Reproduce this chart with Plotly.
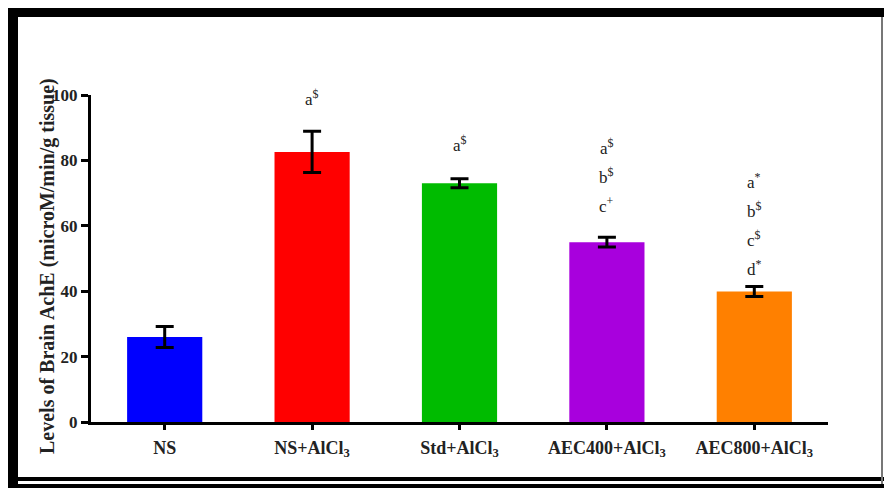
import plotly.graph_objects as go

# Brain AChE activity per treatment group (mean ± SEM)
groups = ["NS", "NS+AlCl<sub>3</sub>", "Std+AlCl<sub>3</sub>",
          "AEC400+AlCl<sub>3</sub>", "AEC800+AlCl<sub>3</sub>"]
means = [26.0, 82.6, 73.0, 55.0, 39.9]
sems = [3.2, 6.3, 1.4, 1.5, 1.5]
bar_colors = ["#0000FF", "#FF0000", "#00BB00", "#A800DD", "#FF8000"]

# Significance letters above each bar (top to bottom)
sig_letters = [
    [],
    ["a<sup>$</sup>"],
    ["a<sup>$</sup>"],
    ["a<sup>$</sup>", "b<sup>$</sup>", "c<sup>+</sup>"],
    ["a<sup>*</sup>", "b<sup>$</sup>", "c<sup>$</sup>", "d<sup>*</sup>"],
]
y_ticks = [0, 20, 40, 60, 80, 100]

W, H = 884, 488
L, R, T, B = 91, 828, 95, 422
FONT = "Liberation Serif"


def px_x(px):
    return (px - L) / (R - L)


def px_y(py):
    return (B - py) / (B - T)


fig = go.Figure()
fig.add_trace(go.Bar(
    x=groups, y=means,
    marker=dict(color=bar_colors, line=dict(width=0)),
    width=0.51,
    error_y=dict(type="data", array=sems, visible=True,
                 color="black", thickness=3, width=9),
    showlegend=False,
))

# letters stacked above the error bars
gaps = [0, 28, 30, 27, 14]
step = 29
for i, letters in enumerate(sig_letters):
    n = len(letters)
    for k, txt in enumerate(letters):
        fig.add_annotation(
            x=groups[i], y=means[i] + sems[i], xref="x", yref="y",
            text=txt, showarrow=False, yanchor="bottom",
            yshift=gaps[i] + (n - 1 - k) * step - 8,
            font=dict(family=FONT, size=17, color="#222"),
        )

# y-axis title
fig.add_annotation(
    x=px_x(47), y=px_y(266), xref="paper", yref="paper",
    xanchor="center", yanchor="middle",
    text="<b>Levels of Brain AchE (microM/min/g tissue)</b>",
    textangle=-90, showarrow=False,
    font=dict(family=FONT, size=20, color="#222"),
)

# outer frame
frame = [
    (8, 8, 884, 17, "black"),
    (8, 8, 18, 488, "black"),
    (18, 477, 884, 481, "black"),
    (18, 484, 884, 488, "black"),
    (881, 17, 883, 484, "#777777"),
]
for x0, y0, x1, y1, c in frame:
    fig.add_shape(type="rect", xref="paper", yref="paper",
                  x0=px_x(x0), x1=px_x(x1), y0=px_y(y0), y1=px_y(y1),
                  fillcolor=c, line=dict(width=0), layer="above")

fig.update_layout(
    width=W, height=H,
    margin=dict(l=L, r=W - R, t=T, b=H - B, pad=0),
    paper_bgcolor="white", plot_bgcolor="white",
    bargap=0.49,
    font=dict(family=FONT, color="#222"),
)
fig.update_xaxes(
    range=[-0.5, 4.5],
    showline=True, linecolor="black", linewidth=3,
    ticks="outside", ticklen=5, tickwidth=3, tickcolor="black",
    ticklabelstandoff=2,
    tickfont=dict(family=FONT, size=18, color="#222", weight="bold"),
    showgrid=False, zeroline=False,
)
fig.update_yaxes(
    range=[0, 100], tickvals=y_ticks,
    showline=True, linecolor="black", linewidth=3,
    ticks="outside", ticklen=7, tickwidth=3, tickcolor="black",
    tickfont=dict(family=FONT, size=17, color="#222", weight="bold"),
    showgrid=False, zeroline=False,
)

fig.write_html("out.html")
